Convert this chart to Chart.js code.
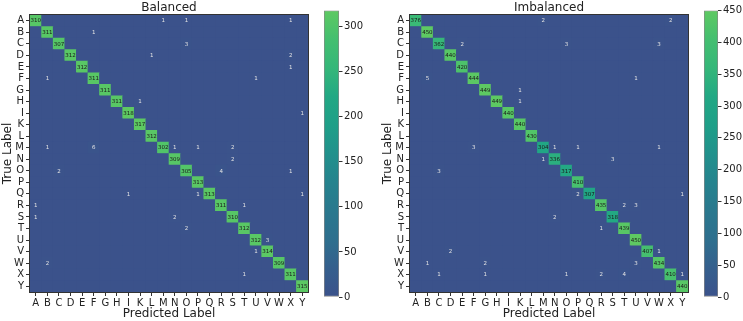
<!DOCTYPE html>
<html>
<head>
<meta charset="utf-8">
<script src="https://cdn.jsdelivr.net/npm/chart.js@4.4.1/dist/chart.umd.min.js"></script>
<style>
  html, body { margin: 0; padding: 0; background: #fff; }
  #wrap { position: relative; width: 743px; height: 321px; overflow: hidden; }
  .box { position: absolute; top: 0; height: 321px; }
  canvas { display: block; }
</style>
</head>
<body>
<div id="wrap">
  <div class="box" style="left:0;width:320px"><canvas id="cmLeft"></canvas></div>
  <div class="box" style="left:324px;width:50px"><canvas id="barLeft"></canvas></div>
  <div class="box" style="left:380px;width:320px"><canvas id="cmRight"></canvas></div>
  <div class="box" style="left:704px;width:39px"><canvas id="barRight"></canvas></div>
</div>
<script>
const letters = ['A','B','C','D','E','F','G','H','I','K','L','M','N','O','P','Q','R','S','T','U','V','W','X','Y']

// diagonal counts, one per true label
const balancedDiag = [310,311,307,312,312,311,311,311,318,317,312,302,309,305,313,313,311,310,312,312,314,309,311,315]
// off-diagonal counts: [true, predicted, count]
const balancedOff = [
    ['A','M',1],['A','O',1],['A','X',1],['B','F',1],['C','O',3],['D','L',1],['D','X',2],['E','X',1],
    ['F','B',1],['F','U',1],['H','K',1],['I','Y',1],['M','B',1],['M','F',6],['M','N',1],['M','P',1],
    ['M','S',2],['N','S',2],['O','C',2],['O','R',4],['O','X',1],['Q','I',1],['Q','P',1],['Q','Y',1],
    ['R','A',1],['R','T',1],['S','A',1],['S','N',2],['T','O',2],['U','V',3],['V','U',1],['W','B',2],['X','T',1]
]
const imbalancedDiag = [376,450,362,440,420,444,449,449,440,440,430,304,336,317,410,307,435,318,439,450,407,434,410,440]
const imbalancedOff = [
    ['A','M',2],['A','X',2],['C','E',2],['C','O',3],['C','W',3],['F','B',5],['F','U',1],['G','K',1],
    ['H','K',1],['M','F',3],['M','N',1],['M','P',1],['M','W',1],['N','M',1],['N','S',3],['O','C',3],
    ['Q','P',2],['Q','Y',1],['R','T',2],['R','U',3],['S','N',2],['T','R',1],['V','D',2],['V','W',1],
    ['W','B',1],['W','G',2],['W','U',3],['X','C',1],['X','G',1],['X','O',1],['X','R',2],['X','T',4],['X','Y',1]
]
const balancedTicks = [0,50,100,150,200,250,300]
const imbalancedTicks = [0,50,100,150,200,250,300,350,400,450]

// middle part of viridis
const cmap = ['#3b528b','#355f8d','#2e6f8e','#2a788e','#25838e','#21918c','#1e9f88','#22a884','#35b779','#44bf70','#5ec962']
const FONT = 'DejaVu Sans'

function hexRgb(h){
    return [1,3,5].map(i => parseInt(h.slice(i, i+2), 16))
}
function colorAt(t){
    t = Math.max(0, Math.min(1, t))
    const p = t * (cmap.length - 1)
    const i = Math.min(Math.floor(p), cmap.length - 2)
    const f = p - i
    const a = hexRgb(cmap[i]), b = hexRgb(cmap[i+1])
    const c = a.map((v, k) => Math.round(v + (b[k] - v) * f))
    return `rgb(${c[0]},${c[1]},${c[2]})`
}

// zero-colour under the cells so no seams show between them
const cellBack = {
    id: 'cellBack',
    beforeDatasetsDraw(chart){
        const a = chart.chartArea
        chart.ctx.save()
        chart.ctx.fillStyle = colorAt(0)
        chart.ctx.fillRect(a.left, a.top, a.right - a.left, a.bottom - a.top)
        chart.ctx.restore()
    }
}
const cellText = {
    id: 'cellText',
    afterDatasetsDraw(chart){
        const ds = chart.data.datasets[0]
        const meta = chart.getDatasetMeta(0)
        const ctx = chart.ctx
        ctx.save()
        ctx.textAlign = 'center'
        ctx.textBaseline = 'middle'
        ctx.font = `5.5px "${FONT}"`
        meta.data.forEach((pt, i) => {
            const d = ds.data[i]
            if (!d.v) return
            ctx.fillStyle = d.v / ds.vmax > 0.5 ? '#1a1a1a' : '#e4e4e4'
            ctx.fillText(String(d.v), pt.x, pt.y + 0.3)
        })
        ctx.restore()
    }
}
const frame = {
    id: 'frame',
    afterDraw(chart){
        const a = chart.chartArea
        const ctx = chart.ctx
        ctx.save()
        ctx.strokeStyle = '#333'
        ctx.lineWidth = 1
        ctx.strokeRect(a.left - 0.5, a.top - 0.5, a.right - a.left + 1, a.bottom - a.top + 1)
        ctx.restore()
    }
}

function axis(title, titlePad, tickPad, extra){
    return Object.assign({
        type: 'category',
        labels: letters,
        offset: true,
        grid: { display: true, drawOnChartArea: false, drawTicks: true, tickLength: 4, color: '#333', offset: false },
        border: { display: false },
        ticks: { font: { family: FONT, size: 10 }, color: '#222', padding: tickPad, autoSkip: false, maxRotation: 0 },
        title: { display: true, text: title, font: { family: FONT, size: 12 }, color: '#222', padding: titlePad }
    }, extra)
}

function heatmap(id, title, diag, off){
    const vmax = Math.max(...diag, ...off.map(o => o[2]))
    const cells = []
    letters.forEach((row, r) => letters.forEach((col, c) => {
        cells.push({ x: col, y: row, v: r === c ? diag[r] : 0 })
    }))
    off.forEach(([row, col, v]) => {
        cells[letters.indexOf(row) * letters.length + letters.indexOf(col)].v = v
    })
    new Chart(document.getElementById(id), {
        type: 'scatter',
        data: {
            datasets: [{
                data: cells,
                vmax,
                pointStyle: 'rect',
                borderWidth: 0,
                backgroundColor: cells.map(d => colorAt(d.v / vmax)),
                pointRadius: ctx => {
                    const a = ctx.chart.chartArea
                    if (!a) return 5
                    return ((a.right - a.left) / letters.length / 2 + 0.3) / Math.SQRT1_2
                }
            }]
        },
        options: {
            responsive: true,
            maintainAspectRatio: false,
            animation: false,
            events: [],
            layout: { padding: { top: 0.6, right: 12, left: 0, bottom: 0 } },
            plugins: {
                legend: { display: false },
                tooltip: { enabled: false },
                title: { display: true, text: title, fullSize: false, color: '#222',
                         font: { family: FONT, size: 12, weight: 'normal' }, padding: { top: 0, bottom: 0 } }
            },
            scales: {
                x: axis('Predicted Label', { top: 0, bottom: 0 }, 1, { afterFit: s => { s.height = 29 } }),
                y: axis('True Label', { top: 1, bottom: 0 }, 2, { afterFit: s => { s.width = 30 } })
            }
        },
        plugins: [cellBack, cellText, frame]
    })
}

function colorbar(id, vmax, ticks, scaleWidth){
    new Chart(document.getElementById(id), {
        type: 'bar',
        data: {
            labels: [''],
            datasets: [{
                data: [[0, vmax]],
                backgroundColor: ctx => {
                    const a = ctx.chart.chartArea
                    if (!a) return cmap[0]
                    const g = ctx.chart.ctx.createLinearGradient(0, a.bottom, 0, a.top)
                    cmap.forEach((c, i) => g.addColorStop(i / (cmap.length - 1), c))
                    return g
                },
                borderColor: '#888',
                borderWidth: 1,
                borderSkipped: false,
                barPercentage: 1,
                categoryPercentage: 1
            }]
        },
        options: {
            responsive: true,
            maintainAspectRatio: false,
            animation: false,
            events: [],
            layout: { padding: { top: 10.5, bottom: 24, left: 0, right: 0 } },
            plugins: { legend: { display: false }, tooltip: { enabled: false } },
            scales: {
                x: { display: false },
                y: {
                    position: 'right',
                    min: 0,
                    max: vmax,
                    afterBuildTicks: s => { s.ticks = ticks.map(v => ({ value: v })) },
                    grid: { drawOnChartArea: false, drawTicks: true, tickLength: 3.5, color: '#333' },
                    border: { display: false },
                    ticks: { font: { family: FONT, size: 10 }, color: '#222', padding: 1.5 },
                    afterFit: s => { s.width = scaleWidth }
                }
            }
        }
    })
}

heatmap('cmLeft', 'Balanced', balancedDiag, balancedOff)
heatmap('cmRight', 'Imbalanced', imbalancedDiag, imbalancedOff)
colorbar('barLeft', Math.max(...balancedDiag), balancedTicks, 35)
colorbar('barRight', Math.max(...imbalancedDiag), imbalancedTicks, 25)
</script>
</body>
</html>
